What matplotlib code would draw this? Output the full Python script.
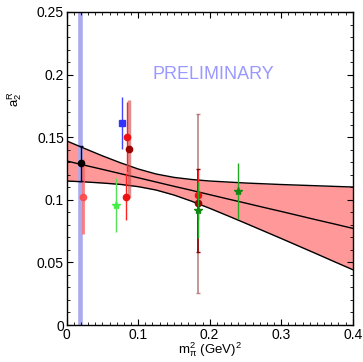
import matplotlib
matplotlib.use("Agg")
import matplotlib.pyplot as plt
from matplotlib.ticker import MultipleLocator

plt.rcParams['font.family'] = ['Liberation Sans', 'DejaVu Sans']
plt.rcParams['mathtext.fontset'] = 'custom'
plt.rcParams['mathtext.rm'] = 'Liberation Sans'
plt.rcParams['mathtext.it'] = 'Liberation Sans'

# --- fit band ---
band_x = [0.0, 0.025, 0.05, 0.075, 0.1, 0.125, 0.15, 0.175, 0.2, 0.225,
          0.25, 0.275, 0.3, 0.325, 0.35, 0.375, 0.4]
band_upper = [0.1470, 0.1410, 0.1351, 0.1296, 0.1246, 0.1206, 0.1179, 0.1162,
              0.1150, 0.1142, 0.1134, 0.1128, 0.1122, 0.1117, 0.1112, 0.1107, 0.1102]
band_center = [0.1310, 0.1276, 0.1243, 0.1209, 0.1176, 0.1142, 0.1108, 0.1075,
               0.1041, 0.1007, 0.0974, 0.0940, 0.0907, 0.0873, 0.0839, 0.0806, 0.0772]
band_lower = [0.1150, 0.1143, 0.1134, 0.1123, 0.1105, 0.1078, 0.1038, 0.0988,
              0.0932, 0.0873, 0.0813, 0.0752, 0.0691, 0.0629, 0.0567, 0.0504, 0.0442]

# physical pion mass line
phys_x = 0.019

# --- data points ---
black_x = [0.0195]; black_y = [0.129]; black_err = [0.0143]
red_light_x = [0.0223]; red_light_y = [0.1025]; red_light_err = [0.030]
blue_x = [0.0777]; blue_y = [0.1613]; blue_err = [0.021]
lgreen_x = [0.0684]; lgreen_y = [0.0958]; lgreen_err = [0.0213]
red_x = [0.0837, 0.0832, 0.183]; red_y = [0.150, 0.1025, 0.1038]; red_err = [0.028, 0.0186, 0.020]
dred_x = [0.0874, 0.183]; dred_y = [0.1406, 0.0972]; dred_err = [0.039, 0.0716]
dred_inner_lo = [0.0387]; dred_inner_hi = [0.0274]
dgreen_x = [0.183, 0.2395]; dgreen_y = [0.0918, 0.107]; dgreen_err = [0.0223, 0.0225]

fig = plt.figure(figsize=(3.63, 3.62), dpi=100)
ax = fig.add_axes([0.1837, 0.1022, 0.7879, 0.8647])

ax.fill_between(band_x, band_lower, band_upper, color='#ff9999', lw=0, zorder=1)
ax.plot(band_x, band_upper, color='black', lw=1.0, zorder=2)
ax.plot(band_x, band_center, color='black', lw=1.0, zorder=2)
ax.plot(band_x, band_lower, color='black', lw=1.0, zorder=2)

ax.axvline(phys_x, color='#aaaaee', lw=3.3, zorder=1.5)

ax.text(0.205, 0.1997, 'PRELIMINARY', color='#9999ff', fontsize=13,
        ha='center', va='center', zorder=3)

# error bars + markers
ax.errorbar(red_light_x, red_light_y, yerr=red_light_err, fmt='o', color='#ff4444',
            ecolor='#ff6666', elinewidth=2, ms=4.5, alpha=0.85, zorder=3)
ax.errorbar(black_x, black_y, yerr=black_err, fmt='o', color='black', ecolor='#000033',
            elinewidth=1, capsize=1.5, ms=4.5, zorder=4)
ax.errorbar(lgreen_x, lgreen_y, yerr=lgreen_err, fmt='*', color='#44ee44', ecolor='#55dd55',
            elinewidth=1, ms=6, zorder=4)
ax.errorbar(blue_x, blue_y, yerr=blue_err, fmt='s', color='#3333ff', ecolor='#4444ff',
            elinewidth=1, ms=4.5, zorder=4)
ax.errorbar(dred_x[:1], dred_y[:1], yerr=dred_err[:1], fmt='none', ecolor='#cc4444',
            elinewidth=2.5, alpha=0.6, zorder=3)
ax.errorbar(dred_x[1:], dred_y[1:], yerr=dred_err[1:], fmt='none', ecolor='#aa6666',
            elinewidth=1.2, capsize=1.5, alpha=0.8, zorder=3)
ax.errorbar(dred_x[1:], dred_y[1:], yerr=[dred_inner_lo, dred_inner_hi], fmt='none',
            ecolor='#8b0000', elinewidth=1.2, capsize=1.5, zorder=3.2)
ax.errorbar(red_x, red_y, yerr=red_err, fmt='o', color='#ee1111', ecolor='#ff2222',
            elinewidth=1, ms=4.5, zorder=4)
ax.plot(dred_x, dred_y, 'o', color='#990000', ms=4.5, zorder=4.5)
ax.errorbar(dgreen_x, dgreen_y, yerr=dgreen_err, fmt='*', color='#118811', ecolor='#22aa22',
            elinewidth=1, ms=6, zorder=5)

ax.set_xlim(0, 0.4)
ax.set_ylim(0, 0.25)
ax.set_xticks([0, 0.1, 0.2, 0.3, 0.4])
ax.set_xticklabels(['0', '0.1', '0.2', '0.3', '0.4'])
ax.set_yticks([0, 0.05, 0.1, 0.15, 0.2, 0.25])
ax.set_yticklabels(['0', '0.05', '0.1', '0.15', '0.2', '0.25'])
ax.xaxis.set_minor_locator(MultipleLocator(0.01))
ax.yaxis.set_minor_locator(MultipleLocator(0.01))
ax.tick_params(which='both', direction='in', top=True, right=True, labelsize=10)
ax.tick_params(which='major', length=4, width=0.8, pad=2)
ax.tick_params(which='minor', length=2, width=0.6)
for s in ax.spines.values():
    s.set_linewidth(1.0)

ax.set_xlabel(r'm$_{\pi}^{2}$ (GeV)$^{2}$', fontsize=9.5, labelpad=-1)
ax.set_ylabel(r'a$_{2}^{R}$', fontsize=9.5)
ax.yaxis.set_label_coords(-0.15, 0.72)

fig.savefig('out.png', dpi=100)
